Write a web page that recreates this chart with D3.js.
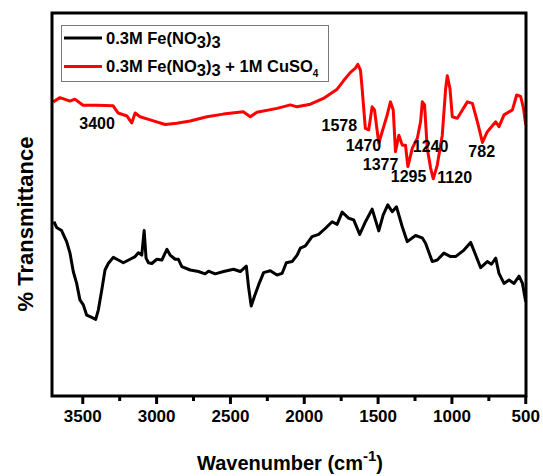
<!DOCTYPE html>
<meta charset="utf-8">
<script src="https://d3js.org/d3.v7.min.js"></script>
<style>
  body { margin: 0; background: #fff; }
  text { font-family: "Liberation Sans", Arial, sans-serif; font-weight: bold; }
</style>
<body>
<div id="chart"></div>
<script>
// wavenumber (cm-1) and transmittance (a.u., 0-100 of the plot height)
const redWn = [3697, 3651, 3583, 3550, 3495, 3402, 3292, 3258, 3197, 3165, 3142, 3109, 3040, 2939, 2860, 2769,
  2656, 2545, 2410, 2362, 2317, 2181, 2091, 2046, 1955, 1867, 1774, 1731, 1684, 1650, 1634, 1616, 1605, 1583,
  1560, 1537, 1521, 1492, 1469, 1435, 1413, 1394, 1379, 1356, 1333, 1311, 1295, 1265, 1231, 1209, 1197, 1182,
  1164, 1141, 1123, 1096, 1062, 1039, 1028, 1010, 994, 960, 892, 858, 824, 790, 757, 700, 678, 644, 587, 558,
  531, 512, 497];
const redT = [76.8, 77.9, 77.0, 77.5, 75.9, 75.9, 75.8, 73.9, 73.1, 71.3, 73.9, 72.9, 72.1, 70.9, 71.2, 71.8,
  72.9, 73.6, 74.2, 72.9, 74.1, 75.1, 76.0, 75.5, 76.2, 77.7, 80.1, 82.3, 84.5, 85.6, 86.6, 85.1, 80.4, 69.9,
  69.5, 75.5, 74.7, 66.0, 69.0, 73.4, 76.8, 74.7, 63.8, 68.1, 65.5, 65.5, 59.9, 64.7, 67.3, 71.6, 76.8, 76.0,
  64.7, 59.5, 56.7, 60.3, 68.1, 80.3, 83.6, 80.3, 72.9, 72.5, 76.8, 76.4, 71.6, 66.2, 69.0, 71.6, 70.3, 73.4,
  74.7, 78.6, 78.2, 75.1, 70.8];

const blackWn = [3692, 3674, 3640, 3606, 3583, 3561, 3538, 3516, 3493, 3470, 3436, 3409, 3391, 3368, 3346, 3324,
  3290, 3256, 3222, 3176, 3142, 3120, 3097, 3081, 3068, 3052, 3029, 2995, 2961, 2927, 2905, 2871, 2849, 2826,
  2769, 2713, 2668, 2645, 2600, 2543, 2476, 2430, 2389, 2374, 2356, 2335, 2306, 2272, 2227, 2181, 2147, 2118,
  2079, 2045, 2023, 1989, 1944, 1899, 1853, 1808, 1774, 1740, 1695, 1662, 1621, 1582, 1537, 1492, 1462, 1431,
  1401, 1372, 1333, 1299, 1243, 1198, 1175, 1130, 1096, 1051, 1006, 972, 915, 870, 836, 802, 757, 729, 700,
  678, 644, 610, 576, 542, 519, 497];
const blackT = [45.5, 44.0, 43.2, 40.3, 37.3, 32.5, 29.4, 25.1, 23.8, 21.1, 20.5, 20.0, 22.5, 27.7, 32.9, 34.6,
  36.2, 35.5, 34.8, 35.7, 36.4, 37.4, 36.8, 43.2, 36.0, 34.8, 34.6, 35.7, 35.5, 38.3, 36.8, 35.7, 35.7, 33.8,
  32.9, 32.5, 31.9, 32.6, 31.9, 32.5, 33.1, 32.5, 33.9, 28.5, 23.5, 25.9, 29.0, 32.2, 32.7, 31.6, 32.0, 34.8,
  35.1, 36.8, 38.6, 39.2, 41.6, 42.2, 43.8, 45.5, 44.8, 48.0, 46.4, 46.0, 42.2, 45.5, 48.8, 43.1, 47.3, 49.9,
  48.1, 49.4, 44.2, 40.3, 41.9, 41.3, 39.9, 35.1, 35.5, 37.3, 36.4, 36.4, 38.1, 40.1, 36.8, 33.5, 35.1, 34.4,
  36.0, 32.0, 29.4, 30.3, 29.4, 31.3, 29.4, 24.6];

// peak labels and where their text sits (wavenumber, transmittance)
const peakLabels = ["3400", "1578", "1470", "1377", "1295", "1240", "1120", "782"];
const peakLabelWn = [3400, 1759, 1596, 1480, 1290, 1141, 978, 795];
const peakLabelT = [71.3, 70.6, 65.4, 60.6, 57.5, 65.1, 57.0, 63.8];

const majorTicks = [3500, 3000, 2500, 2000, 1500, 1000, 500];
const minorTicks = [3250, 2750, 2250, 1750, 1250, 750];

const width = 543, height = 476;
const margin = { top: 13, right: 17, bottom: 80, left: 52 };

const svg = d3.select("#chart").append("svg")
  .attr("width", width)
  .attr("height", height);

const x = d3.scaleLinear().domain([3705, 495]).range([margin.left, width - margin.right]);
const y = d3.scaleLinear().domain([0, 100]).range([height - margin.bottom, margin.top]);

const line = d3.line().x(d => x(d[0])).y(d => y(d[1]));

const black = blackWn.map((w, i) => [w, blackT[i]]);
const red = redWn.map((w, i) => [w, redT[i]]);

svg.append("path").datum(black)
  .attr("d", line).attr("fill", "none").attr("stroke", "#000")
  .attr("stroke-width", 3).attr("stroke-linejoin", "round");
svg.append("path").datum(red)
  .attr("d", line).attr("fill", "none").attr("stroke", "#ff0000")
  .attr("stroke-width", 3).attr("stroke-linejoin", "round");

// peak labels
svg.selectAll(".peak").data(peakLabels).join("text")
  .attr("class", "peak")
  .attr("x", (d, i) => x(peakLabelWn[i]))
  .attr("y", (d, i) => y(peakLabelT[i]))
  .attr("dy", "0.36em")
  .attr("text-anchor", "middle")
  .attr("font-size", 16)
  .text(d => d);

// frame
svg.append("rect")
  .attr("x", margin.left).attr("y", margin.top)
  .attr("width", width - margin.left - margin.right)
  .attr("height", height - margin.top - margin.bottom)
  .attr("fill", "none").attr("stroke", "#000").attr("stroke-width", 3);

// x axis
const xAxis = svg.append("g")
  .attr("transform", `translate(0,${height - margin.bottom})`)
  .call(d3.axisBottom(x).tickValues(majorTicks).tickSize(8).tickSizeOuter(0).tickPadding(6).tickFormat(d3.format("d")));
xAxis.select(".domain").remove();
xAxis.selectAll("line").attr("stroke-width", 3);
xAxis.selectAll("text").attr("font-size", 17).attr("font-family", "Liberation Sans, Arial, sans-serif")
  .attr("font-weight", "bold").attr("fill", "#000");

const xMinor = svg.append("g")
  .attr("transform", `translate(0,${height - margin.bottom})`)
  .call(d3.axisBottom(x).tickValues(minorTicks).tickSize(5).tickFormat(""));
xMinor.select(".domain").remove();
xMinor.selectAll("line").attr("stroke-width", 3);

// axis titles
const xt = svg.append("text")
  .attr("x", 290).attr("y", 470)
  .attr("text-anchor", "middle")
  .attr("font-size", 20);
xt.append("tspan").text("Wavenumber (cm");
xt.append("tspan").attr("font-size", 15).attr("dy", -9).text("-1");
xt.append("tspan").attr("dy", 9).text(")");

svg.append("text")
  .attr("transform", `translate(33,224) rotate(-90)`)
  .attr("text-anchor", "middle")
  .attr("font-size", 22)
  .text("% Transmittance");

// legend
const legend = svg.append("g");
legend.append("rect")
  .attr("x", 61.5).attr("y", 25.5).attr("width", 267).attr("height", 56)
  .attr("fill", "#fff").attr("stroke", "#777").attr("stroke-width", 1);

const legendRows = [
  { color: "#000", cu: false, ly: 38 },
  { color: "#ff0000", cu: true, ly: 66.5 }
];
legendRows.forEach(r => {
  legend.append("line")
    .attr("x1", 64).attr("x2", 102).attr("y1", r.ly).attr("y2", r.ly)
    .attr("stroke", r.color).attr("stroke-width", 3);
  const t = legend.append("text").attr("x", 106).attr("y", r.ly + 5.5).attr("font-size", 16.5);
  t.append("tspan").text("0.3M Fe(NO");
  t.append("tspan").attr("dy", 4).text("3");
  t.append("tspan").attr("dy", -4).text(")");
  t.append("tspan").attr("dy", 4).text("3");
  if (r.cu) {
    t.append("tspan").attr("dy", -4).text(" + 1M CuSO");
    t.append("tspan").attr("dy", 5).attr("font-size", 10).text("4");
  }
});
</script>
</body>
